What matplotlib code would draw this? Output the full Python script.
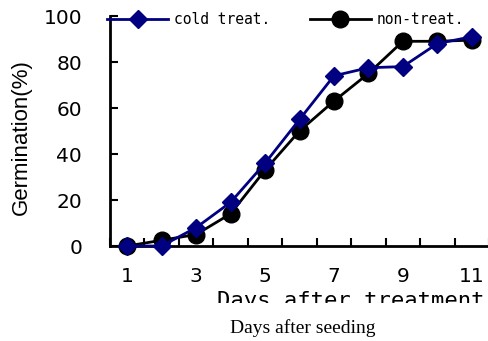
import numpy as np
import matplotlib
matplotlib.use("Agg")
import matplotlib.pyplot as plt
from matplotlib.patches import Rectangle

days = np.arange(1, 12)
cold = [0, 0, 8, 19, 36, 55, 74, 77.5, 78, 88, 91]
non_treat = [0, 2.5, 5, 14, 33, 50, 63, 75, 89, 89, 89.5]
xtick_labels = ["1", "3", "5", "7", "9", "11"]
yticks = [0, 20, 40, 60, 80, 100]

W, H = 489, 341
fig = plt.figure(figsize=(W / 100, H / 100), dpi=100, facecolor="white")
ax = fig.add_axes([110 / W, 1 - 246 / H, 1 - 110 / W, (246 - 16) / H])

ax.plot(days, cold, color="#000080", lw=2, marker="D", ms=9,
        label="cold treat.", clip_on=False, zorder=3)
ax.plot(days, non_treat, color="black", lw=2, marker="o", ms=12,
        label="non-treat.", clip_on=False, zorder=2)

ax.set_xlim(0.5, 11.5)
ax.set_ylim(0, 100)

for s in ["top", "right"]:
    ax.spines[s].set_visible(False)
for s in ["left", "bottom"]:
    ax.spines[s].set_linewidth(2)

ax.set_xticks(np.arange(0.5, 12, 1))
ax.set_xticklabels([])
ax.set_xticks(days[::2], minor=True)
ax.set_xticklabels(xtick_labels, minor=True)
ax.tick_params(axis="x", which="major", direction="in", length=6, width=1.5)
ax.tick_params(axis="x", which="minor", length=0, pad=15, labelsize=14.5)
ax.set_yticks(yticks)
ax.tick_params(axis="y", direction="in", length=6, width=1.5, pad=20,
               labelsize=14.5)

fig.text(21 / W, 1 - 137 / H, "Germination(%)", rotation=90, ha="center",
         va="center", fontsize=16, family="Liberation Sans")

# x label partly hidden below
fig.text(351 / W, 1 - 291 / H, "Days after treatment", ha="center", va="top",
         fontsize=16, family="DejaVu Sans Mono")
fig.patches.append(Rectangle((0, 0), 1, 1 - 303 / H, transform=fig.transFigure,
                             facecolor="white", edgecolor="none", zorder=5))
fig.text(303 / W, 1 - 328 / H, "Days after seeding", ha="center", va="center",
         fontsize=14, family="Liberation Serif", zorder=6)

leg = ax.legend(ncol=2, loc="center left", bbox_to_anchor=(107 / W, 1 - 20 / H),
                bbox_transform=fig.transFigure, frameon=False,
                prop={"family": "DejaVu Sans Mono", "size": 10.5},
                handlelength=4.2, handletextpad=0.4, columnspacing=2.7,
                borderpad=0, borderaxespad=0)

fig.savefig("out.png", dpi=100, facecolor="white")
